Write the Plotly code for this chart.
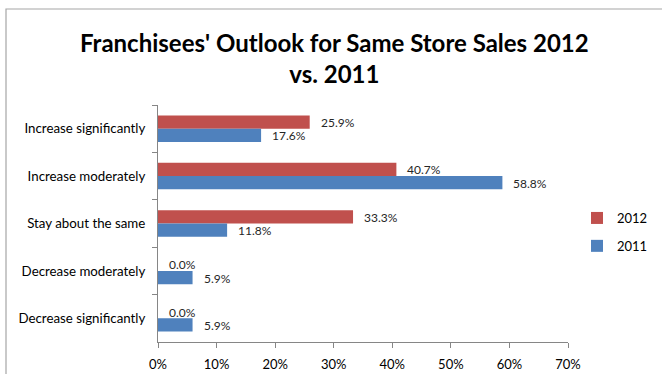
import plotly.graph_objects as go

# Survey categories, listed top to bottom
categories = [
    "Increase significantly",
    "Increase moderately",
    "Stay about the same",
    "Decrease moderately",
    "Decrease significantly",
]
values_2012 = [25.9, 40.7, 33.3, 0.0, 0.0]
values_2011 = [17.6, 58.8, 11.8, 5.9, 5.9]
x_ticks = [0, 10, 20, 30, 40, 50, 60, 70]
x_tick_labels = [f"{v}%" for v in x_ticks]

RED = "#C0504D"
BLUE = "#4F81BD"
AXIS = "#868686"
FONT = "Lato, 'Open Sans', sans-serif"

W, H = 662, 374
M_L, M_R, M_T, M_B = 158, 94, 105, 32
BARGAP = 0.44
plot_w = W - M_L - M_R
plot_h = H - M_T - M_B
px_per_cat = plot_h / len(categories)
bar_px = (1 - BARGAP) / 2 * px_per_cat

fig = go.Figure()
fig.add_trace(go.Bar(name="2012", y=categories, x=values_2012, orientation="h",
                     legendgroup="a", marker=dict(color=RED, line=dict(width=0))))
fig.add_trace(go.Bar(name="2011", y=categories, x=values_2011, orientation="h",
                     legendgroup="b", marker=dict(color=BLUE, line=dict(width=0))))

# Value labels just past the end of each bar
annotations = []
for series, shift in ((values_2012, bar_px / 2), (values_2011, -bar_px / 2)):
    for cat, v in zip(categories, series):
        annotations.append(dict(
            x=v, y=cat, xref="x", yref="y", text=f"{v:.1f}%",
            showarrow=False, xanchor="left", yanchor="middle",
            xshift=9, yshift=shift - 0.5,
            font=dict(family=FONT, size=12, color="#262626"),
        ))

# Chart title, two centred lines
annotations.append(dict(
    text="Franchisees' Outlook for Same Store Sales 2012<br>vs. 2011",
    xref="paper", yref="paper",
    x=(W / 2 + 3 - M_L) / plot_w, y=(H - M_B - 58) / plot_h,
    xanchor="center", yanchor="middle", showarrow=False,
    font=dict(family=FONT, size=24, color="#000000", weight="bold"),
))

# Outer chart frame
frame = dict(
    type="rect", xref="paper", yref="paper", layer="below",
    x0=(6 - M_L) / plot_w, x1=(W + 20 - M_L) / plot_w,
    y0=(H - M_B - (H + 20)) / plot_h, y1=(H - M_B - 9) / plot_h,
    line=dict(color="#A6A6A6", width=1.2), fillcolor="rgba(0,0,0,0)",
)

fig.update_layout(
    width=W, height=H,
    margin=dict(l=M_L, r=M_R, t=M_T, b=M_B, pad=0, autoexpand=False),
    paper_bgcolor="white", plot_bgcolor="white",
    barmode="group", bargap=BARGAP, bargroupgap=0,
    font=dict(family=FONT, color="#000000"),
    legend=dict(
        x=1 + (577 - (W - M_R)) / plot_w, xanchor="left",
        y=(H - M_B - 203) / plot_h, yanchor="top",
        font=dict(family=FONT, size=13, color="#000000"),
        traceorder="grouped", itemwidth=30, tracegroupgap=8,
        bgcolor="rgba(0,0,0,0)",
    ),
    xaxis=dict(
        range=[0, 70], tickvals=x_ticks, ticktext=x_tick_labels,
        showgrid=False, zeroline=False,
        showline=True, linecolor=AXIS, linewidth=1,
        ticks="outside", ticklen=5, tickcolor=AXIS,
        ticklabelstandoff=5,
        tickfont=dict(family=FONT, size=13, color="#000000"),
    ),
    yaxis=dict(
        type="category", categoryorder="array", categoryarray=categories,
        autorange="reversed", tickson="boundaries",
        showgrid=False, zeroline=False,
        showline=True, linecolor=AXIS, linewidth=1,
        ticks="outside", ticklen=5, tickcolor=AXIS,
        ticklabelstandoff=9,
        tickfont=dict(family=FONT, size=13.3, color="#000000"),
    ),
    annotations=annotations,
    shapes=[frame],
)

fig.write_html("out.html")
